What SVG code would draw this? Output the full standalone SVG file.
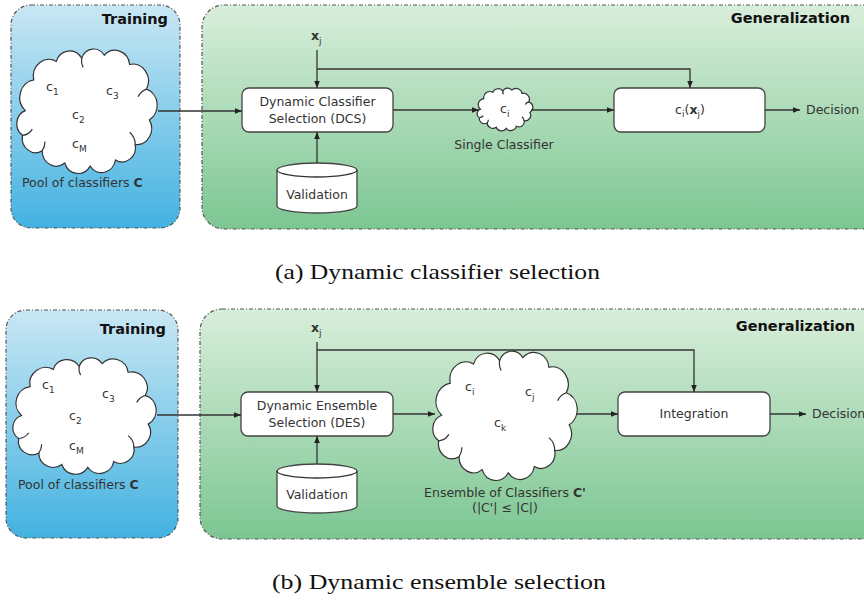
<svg xmlns="http://www.w3.org/2000/svg" width="864" height="600" viewBox="0 0 864 600">
<style>
.panel{stroke:#555;stroke-width:1.2;stroke-dasharray:4 2 1 2;}
.box{fill:#fff;stroke:#444;stroke-width:1.3;}
.cl{fill:#fff;stroke:#333;stroke-width:1.2;}
.t{font-family:"DejaVu Sans",Verdana,sans-serif;font-size:12.5px;fill:#333;}
.tb{font-family:"DejaVu Sans",Verdana,sans-serif;font-size:14.5px;font-weight:bold;fill:#111;}
.cap{font-family:"Liberation Serif","Times New Roman",serif;font-size:22px;fill:#111;}
.ln{fill:none;stroke:#333;stroke-width:1.3;}
.arr{marker-end:url(#ah);}
</style>
<defs>
<linearGradient id="gb" x1="0" y1="0" x2="0" y2="1"><stop offset="0" stop-color="#c9e7f4"/><stop offset="1" stop-color="#43b2e1"/></linearGradient>
<linearGradient id="gg" x1="0" y1="0" x2="0" y2="1"><stop offset="0" stop-color="#d9eedb"/><stop offset="1" stop-color="#7cc692"/></linearGradient>
<marker id="ah" viewBox="0 0 10 10" refX="10" refY="5" markerWidth="7" markerHeight="7" markerUnits="userSpaceOnUse" orient="auto"><path d="M0,1 L10,5 L0,9 Z" fill="#222"/></marker>
<g id="cloud">
<path vector-effect="non-scaling-stroke" d="M8,42 A11.5,11.5 0 0 1 14,22 A11,11 0 0 1 30,10 A10,10 0 0 1 48,8 A9,9 0 0 1 64,6 A10.5,10.5 0 0 1 82,12 A11,11 0 0 1 94,28 A11,11 0 0 1 96,48 A10.5,10.5 0 0 1 86,64 A9.5,9.5 0 0 1 72,74 A10,10 0 0 1 54,78 A10,10 0 0 1 36,76 A10,10 0 0 1 20,68 A9.5,9.5 0 0 1 6,58 A9,9 0 0 1 8,42 Z"/>
<path vector-effect="non-scaling-stroke" fill="none" d="M6,58 A9,9 0 0 0 13,54 M86,64 A10,10 0 0 0 82,56 M94,28 A10,10 0 0 0 88,33 M20,68 A10,10 0 0 0 22,62 M48,8 A9,9 0 0 0 49,14"/>
</g>
</defs>
<rect width="864" height="600" fill="#fff"/>

<!-- Panel (a) -->
<g id="training-a">
<rect class="panel" x="11" y="5" width="169" height="223" rx="20" fill="url(#gb)"/>
<text class="tb" x="168" y="24" text-anchor="end">Training</text>
</g>
<g id="generalization-a">
<rect class="panel" x="202" y="5" width="700" height="224" rx="22" fill="url(#gg)"/>
<text class="tb" x="850" y="23" text-anchor="end">Generalization</text>
</g>
<g id="pool-a">
<use href="#cloud" class="cl" transform="translate(14,46) scale(1.41,1.54)"/>
<text class="t" x="46" y="91">c<tspan font-size="9" dy="4">1</tspan></text>
<text class="t" x="106" y="95">c<tspan font-size="9" dy="4">3</tspan></text>
<text class="t" x="72" y="119">c<tspan font-size="9" dy="4">2</tspan></text>
<text class="t" x="72" y="148">c<tspan font-size="9" dy="4">M</tspan></text>
<text class="t" x="22" y="187">Pool of classifiers <tspan font-weight="bold">C</tspan></text>
</g>
<g id="xj-a"><text class="t" x="311" y="40" font-weight="bold" font-size="13.5" fill="#111">x<tspan font-size="9" font-weight="normal" dy="4">j</tspan></text></g>
<g id="dcs">
<rect class="box" x="242" y="88" width="151" height="44" rx="7"/>
<text class="t" x="317.5" y="106" text-anchor="middle">Dynamic Classifier</text>
<text class="t" x="317.5" y="123" text-anchor="middle">Selection (DCS)</text>
</g>
<g id="validation-a">
<path class="box" d="M277,170 A40,7 0 0 1 357,170 V206 A40,7 0 0 1 277,206 Z"/>
<path class="ln" d="M277,170 A40,7 0 0 0 357,170"/>
<text class="t" x="317" y="199" text-anchor="middle">Validation</text>
</g>
<g id="single">
<use href="#cloud" class="cl" transform="translate(476,87) scale(0.56,0.53)"/>
<text class="t" x="500" y="113">c<tspan font-size="9" dy="4">i</tspan></text>
<text class="t" x="504" y="149" text-anchor="middle">Single Classifier</text>
</g>
<g id="cixj">
<rect class="box" x="614" y="88" width="151" height="44" rx="7"/>
<text class="t" x="690" y="114" text-anchor="middle">c<tspan font-size="9" dy="3">i</tspan><tspan dy="-3">(</tspan><tspan font-weight="bold">x</tspan><tspan font-size="9" dy="3">j</tspan><tspan dy="-3">)</tspan></text>
</g>
<g id="decision-a"><text class="t" x="806" y="114">Decision</text></g>

<!-- Panel (b) -->
<g id="training-b">
<rect class="panel" x="6" y="310" width="172" height="228" rx="20" fill="url(#gb)"/>
<text class="tb" x="166" y="334" text-anchor="end">Training</text>
</g>
<g id="generalization-b">
<rect class="panel" x="200" y="309" width="700" height="230" rx="22" fill="url(#gg)"/>
<text class="tb" x="855" y="331" text-anchor="end">Generalization</text>
</g>
<g id="pool-b">
<use href="#cloud" class="cl" transform="translate(10,355) scale(1.44,1.44)"/>
<text class="t" x="42" y="389">c<tspan font-size="9" dy="4">1</tspan></text>
<text class="t" x="102" y="398">c<tspan font-size="9" dy="4">3</tspan></text>
<text class="t" x="69" y="420">c<tspan font-size="9" dy="4">2</tspan></text>
<text class="t" x="69" y="450">c<tspan font-size="9" dy="4">M</tspan></text>
<text class="t" x="18" y="489">Pool of classifiers <tspan font-weight="bold">C</tspan></text>
</g>
<g id="xj-b"><text class="t" x="311" y="332" font-weight="bold" font-size="13.5" fill="#111">x<tspan font-size="9" font-weight="normal" dy="4">j</tspan></text></g>
<g id="des">
<rect class="box" x="241" y="392" width="152" height="44" rx="7"/>
<text class="t" x="317" y="410" text-anchor="middle">Dynamic Ensemble</text>
<text class="t" x="317" y="427" text-anchor="middle">Selection (DES)</text>
</g>
<g id="validation-b">
<path class="box" d="M277,471 A40,7 0 0 1 357,471 V506 A40,7 0 0 1 277,506 Z"/>
<path class="ln" d="M277,471 A40,7 0 0 0 357,471"/>
<text class="t" x="317" y="499" text-anchor="middle">Validation</text>
</g>
<g id="ensemble">
<use href="#cloud" class="cl" transform="translate(430,348) scale(1.45,1.6)"/>
<text class="t" x="465" y="391">c<tspan font-size="9" dy="4">i</tspan></text>
<text class="t" x="525" y="396">c<tspan font-size="9" dy="4">j</tspan></text>
<text class="t" x="494" y="427">c<tspan font-size="9" dy="4">k</tspan></text>
<text class="t" x="505" y="497" text-anchor="middle">Ensemble of Classifiers <tspan font-weight="bold">C'</tspan></text>
<text class="t" x="505" y="512" text-anchor="middle">(|C'| ≤  |C|)</text>
</g>
<g id="integration">
<rect class="box" x="618" y="392" width="152" height="44" rx="7"/>
<text class="t" x="694" y="418" text-anchor="middle">Integration</text>
</g>
<g id="decision-b"><text class="t" x="812" y="418">Decision</text></g>

<g id="connectors">
<line class="ln arr" x1="158" y1="111" x2="242" y2="111"/>
<line class="ln arr" x1="317" y1="50" x2="317" y2="88"/>
<polyline class="ln arr" points="317,69 690,69 690,88"/>
<line class="ln arr" x1="317" y1="163" x2="317" y2="132"/>
<line class="ln arr" x1="393" y1="110" x2="479" y2="110"/>
<line class="ln arr" x1="531" y1="110" x2="614" y2="110"/>
<line class="ln arr" x1="765" y1="110" x2="800" y2="110"/>

<line class="ln arr" x1="157" y1="415" x2="241" y2="415"/>
<line class="ln arr" x1="317" y1="342" x2="317" y2="392"/>
<polyline class="ln arr" points="317,350 694,350 694,392"/>
<line class="ln arr" x1="317" y1="464" x2="317" y2="436"/>
<line class="ln arr" x1="393" y1="414" x2="435" y2="414"/>
<line class="ln arr" x1="576" y1="414" x2="618" y2="414"/>
<line class="ln arr" x1="770" y1="414" x2="806" y2="414"/>
</g>

<text class="cap" x="437.5" y="279" text-anchor="middle" textLength="325" lengthAdjust="spacingAndGlyphs">(a) Dynamic classifier selection</text>
<text class="cap" x="439" y="589" text-anchor="middle" textLength="334" lengthAdjust="spacingAndGlyphs">(b) Dynamic ensemble selection</text>
</svg>
